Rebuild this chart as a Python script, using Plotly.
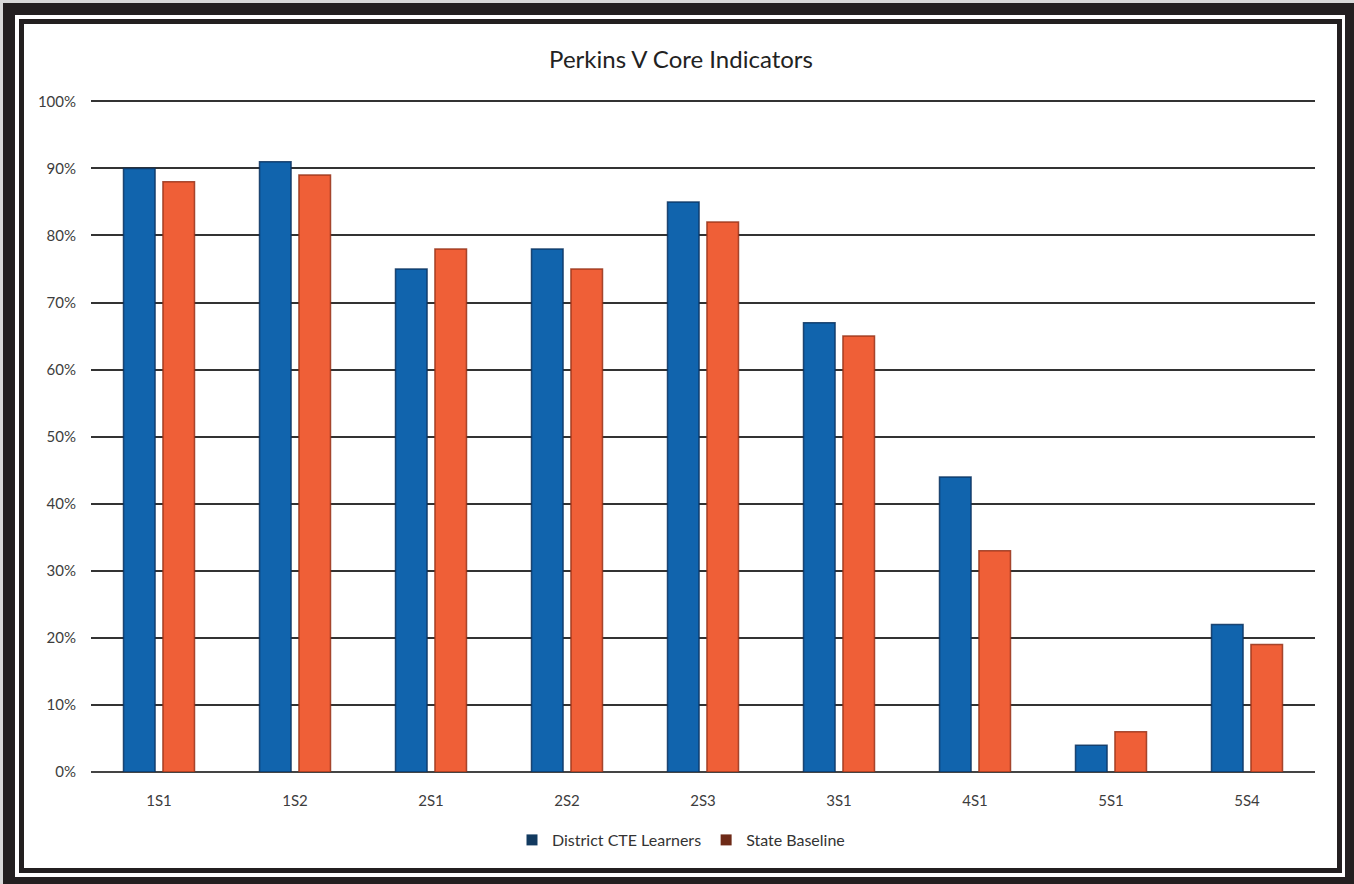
import plotly.graph_objects as go

categories = ["1S1", "1S2", "2S1", "2S2", "2S3", "3S1", "4S1", "5S1", "5S4"]
district = [90, 91, 75, 78, 85, 67, 44, 4, 22]
state = [88, 89, 78, 75, 82, 65, 33, 6, 19]
series_names = ["District CTE Learners", "State Baseline"]

W_PX, H_PX = 1354, 884
ML, MR, MT, MB = 91, 39, 98, 112
PW, PH = W_PX - ML - MR, H_PX - MT - MB

def xp(px):
    return (px - ML) / PW

def yp(py):
    return (H_PX - py - MB) / PH

FONT = "Lato"

fig = go.Figure()
fig.add_trace(go.Bar(x=categories, y=district, name=series_names[0], showlegend=False,
                     marker=dict(color="#1164ad", line=dict(color="rgba(10,50,95,0.85)", width=1.5))))
fig.add_trace(go.Bar(x=categories, y=state, name=series_names[1], showlegend=False,
                     marker=dict(color="#ef5f37", line=dict(color="rgba(150,50,25,0.85)", width=1.5))))
# legend entries with darker swatches
fig.add_trace(go.Scatter(x=[None], y=[None], mode="markers", name=series_names[0],
                         marker=dict(symbol="square", size=11, color="#123a60")))
fig.add_trace(go.Scatter(x=[None], y=[None], mode="markers", name=series_names[1],
                         marker=dict(symbol="square", size=11, color="#6e2a17")))

def rect(x0, y0, x1, y1, color):
    return dict(type="rect", xref="paper", yref="paper", layer="below",
                x0=xp(x0), x1=xp(x1), y0=yp(y0), y1=yp(y1),
                fillcolor=color, line=dict(width=0))

shapes = [
    rect(0, 0, 1354, 884, "#d8d8d8"),
    rect(3, 3, 1354, 884, "#231f20"),
    rect(15, 15, 1345, 877, "#ffffff"),
    rect(19, 19, 1342, 873, "#231f20"),
    rect(24, 24, 1337, 868, "#ffffff"),
]

fig.update_layout(
    width=W_PX, height=H_PX,
    margin=dict(l=ML, r=MR, t=MT, b=MB, pad=0, autoexpand=False),
    paper_bgcolor="white", plot_bgcolor="rgba(0,0,0,0)",
    barmode="group", bargap=0.42, bargroupgap=0.2,
    shapes=shapes,
    title=dict(text="Perkins V Core Indicators", x=xp(681), xref="paper", xanchor="center",
               y=1 - 60 / H_PX, yanchor="middle",
               font=dict(family=FONT, size=24, color="#222222")),
    font=dict(family=FONT, color="#404040"),
    legend=dict(orientation="h", x=xp(681), xref="paper", xanchor="center",
                y=yp(840), yanchor="middle", font=dict(family=FONT, size=16, color="#333333"),
                traceorder="normal", bgcolor="rgba(0,0,0,0)"),
    showlegend=True,
)
fig.update_yaxes(range=[0, 100.5], tick0=0, dtick=10, ticksuffix="%",
                 showgrid=True, gridcolor="#333333", gridwidth=2,
                 zeroline=True, zerolinecolor="#444444", zerolinewidth=2,
                 tickfont=dict(family=FONT, size=15, color="#3d3d3d"),
                 ticklabelstandoff=14, showline=False, fixedrange=True)
fig.update_xaxes(showgrid=False, showline=False, ticks="",
                 tickfont=dict(family=FONT, size=15, color="#3d3d3d"),
                 ticklabelstandoff=18)

fig.write_html("out.html")
